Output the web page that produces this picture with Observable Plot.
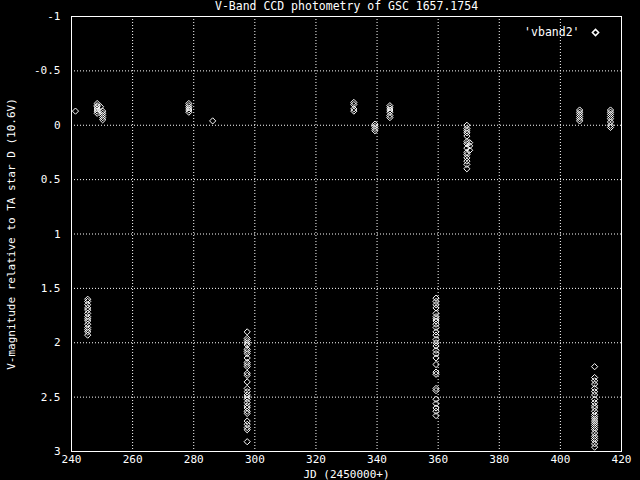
<!DOCTYPE html>
<html>
<head>
<meta charset="utf-8">
<script src="https://cdn.jsdelivr.net/npm/d3@7"></script>
<script src="https://cdn.jsdelivr.net/npm/@observablehq/plot@0.6"></script>
<style>
html,body{margin:0;padding:0;background:#000;}
</style>
</head>
<body>
<div id="chart"></div>
<script>
const title = "V-Band CCD photometry of GSC 1657.1754";
const xLabel = "JD (2450000+)";
const yLabel = "V-magnitude relative to TA star D (10.6V)";
const seriesName = "'vband2'";
const xTicks = [240, 260, 280, 300, 320, 340, 360, 380, 400, 420];
const yTicks = [-1, -0.5, 0, 0.5, 1, 1.5, 2, 2.5, 3];

// Observation nights: JD (2450000+) and V magnitudes
const jd241 = 241.3, mag241 = [-0.13];
const jd248 = 248.4, mag248 = [-0.2, -0.18, -0.17, -0.15, -0.13, -0.11];
const jd249 = 249.5, mag249 = [-0.17];
const jd250 = 250.2, mag250 = [-0.13, -0.11, -0.09, -0.07, -0.05];
const jd245 = 245.3, mag245 = [1.6, 1.62, 1.65, 1.68, 1.7, 1.73, 1.76, 1.78, 1.8, 1.83, 1.86, 1.88, 1.9, 1.93];
const jd278 = 278.4, mag278 = [-0.2, -0.18, -0.16, -0.14, -0.12];
const jd286 = 286.2, mag286 = [-0.04];
const jd297 = 297.5, mag297 = [1.9, 1.96, 1.98, 2.0, 2.02, 2.06, 2.08, 2.1, 2.14, 2.18, 2.2, 2.22, 2.28, 2.3, 2.36, 2.42, 2.45, 2.48, 2.5, 2.52, 2.55, 2.58, 2.6, 2.63, 2.65, 2.72, 2.75, 2.78, 2.8, 2.91];
const jd332 = 332.4, mag332 = [-0.21, -0.19, -0.15, -0.13];
const jd339 = 339.3, mag339 = [-0.01, 0.01, 0.03, 0.05];
const jd344 = 344.2, mag344 = [-0.18, -0.16, -0.14, -0.12, -0.09, -0.07];
const jd359 = 359.3, mag359 = [1.59, 1.62, 1.65, 1.68, 1.73, 1.76, 1.78, 1.8, 1.83, 1.86, 1.9, 1.93, 1.97, 2.0, 2.03, 2.07, 2.1, 2.14, 2.2, 2.27, 2.29, 2.42, 2.44, 2.52, 2.56, 2.6, 2.63, 2.67];
const jd369 = 369.4, mag369 = [0.0, 0.03, 0.05, 0.07, 0.1, 0.15, 0.17, 0.21, 0.25, 0.27, 0.3, 0.33, 0.36, 0.4];
const jd370 = 370.3, mag370 = [0.16, 0.19, 0.23];
const jd406 = 406.3, mag406 = [-0.14, -0.12, -0.1, -0.08, -0.06, -0.04];
const jd411 = 411.2, mag411 = [2.22, 2.32, 2.35, 2.38, 2.42, 2.45, 2.48, 2.52, 2.55, 2.58, 2.6, 2.63, 2.66, 2.68, 2.7, 2.72, 2.74, 2.76, 2.78, 2.8, 2.83, 2.86, 2.88, 2.9, 2.93, 2.96];
const jd416 = 416.4, mag416 = [-0.14, -0.12, -0.1, -0.08, -0.06, -0.03, 0.0, 0.02];

const nights = [
  [jd241, mag241], [jd248, mag248], [jd249, mag249], [jd250, mag250], [jd245, mag245],
  [jd278, mag278], [jd286, mag286], [jd297, mag297], [jd332, mag332], [jd339, mag339],
  [jd344, mag344], [jd359, mag359], [jd369, mag369], [jd370, mag370], [jd406, mag406],
  [jd411, mag411], [jd416, mag416]
];
const data = nights.flatMap(([jd, mags]) => mags.map(m => ({jd, mag: m})));

const font = "'DejaVu Sans Mono', 'Liberation Mono', monospace";

const chart = Plot.plot({
  width: 640,
  height: 480,
  marginLeft: 71,
  marginRight: 19,
  marginTop: 16,
  marginBottom: 29,
  style: {background: "#000", color: "#fff", fontFamily: font, fontSize: "11px"},
  x: {domain: [240, 420]},
  y: {domain: [-1, 3], reverse: true},
  marks: [
    Plot.gridX(xTicks.slice(1, -1), {stroke: "#fff", strokeOpacity: 1, strokeDasharray: "1,2"}),
    Plot.gridY(yTicks.slice(1, -1), {stroke: "#fff", strokeOpacity: 1, strokeDasharray: "1,2"}),
    Plot.axisX({ticks: xTicks, tickSize: 0, tickPadding: 4, label: xLabel, labelAnchor: "center", labelArrow: "none", labelOffset: 26, fontSize: "11px"}),
    Plot.axisY({ticks: yTicks, tickSize: 0, tickPadding: 11, label: yLabel, labelAnchor: "center", labelArrow: "none", labelOffset: 64, tickFormat: d => String(d)}),
    Plot.frame({stroke: "#fff", strokeWidth: 1}),
    Plot.dot(data, {x: "jd", y: "mag", symbol: "diamond2", r: 2.8, stroke: "#fff", strokeWidth: 1}),
    Plot.text([title], {frameAnchor: "top", dy: -10, lineAnchor: "middle", fill: "#fff", fontSize: 11.5}),
    Plot.text([seriesName], {frameAnchor: "top-right", dx: -42, dy: 16, lineAnchor: "middle", textAnchor: "end", fill: "#fff", fontSize: 11.5}),
    Plot.dot([seriesName], {frameAnchor: "top-right", dx: -26, dy: 16, symbol: "diamond2", r: 2.8, stroke: "#fff"})
  ]
});
document.getElementById("chart").appendChild(chart);
</script>
</body>
</html>
